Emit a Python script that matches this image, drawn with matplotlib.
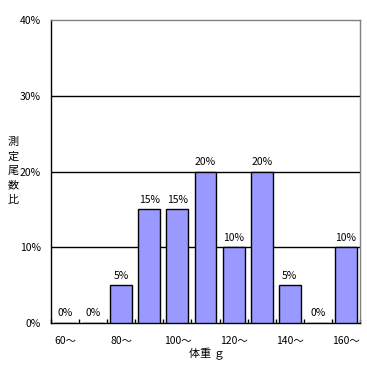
import matplotlib
matplotlib.use("Agg")
import matplotlib.pyplot as plt
import numpy as np

plt.rcParams['font.family'] = ['Noto Sans CJK JP', 'DejaVu Sans']

categories = ["60～", "70～", "80～", "90～", "100～", "110～", "120～", "130～", "140～", "150～", "160～"]
values = [0, 0, 5, 15, 15, 20, 10, 20, 5, 0, 10]
yticks = [0, 10, 20, 30, 40]
ytick_labels = ["0%", "10%", "20%", "30%", "40%"]
xtick_labels = ["60～", "", "80～", "", "100～", "", "120～", "", "140～", "", "160～"]
ylabel = "測定尾数比"
xlabel = "体重 ｇ"

fig = plt.figure(figsize=(3.67, 3.67), dpi=100)
ax = fig.add_axes([51/367, 44/367, 309/367, 303/367])

x = np.arange(len(categories))
ax.bar(x, values, width=0.78, color="#9999FF", edgecolor="black", linewidth=1.0, zorder=3)
for xi, v in zip(x, values):
    ax.text(xi, v + 0.6, f"{v}%", ha="center", va="bottom", fontsize=7.5)

ax.set_xlim(-0.5, len(categories) - 0.5)
ax.set_ylim(0, 40)
for yv in yticks[1:-1]:
    ax.axhline(yv, color="black", linewidth=1.0, zorder=1)

ax.set_yticks(yticks)
ax.set_yticklabels(ytick_labels, fontsize=7.5)
ax.tick_params(axis="y", length=0, pad=7.5)

ax.set_xticks(x)
ax.set_xticklabels(xtick_labels, fontsize=7.5)
ax.tick_params(axis="x", which="major", length=0, pad=9)
ax.set_xticks(np.arange(-0.5, len(categories), 1), minor=True)
ax.tick_params(axis="x", which="minor", direction="in", length=3, width=1, color="black")

ax.spines["left"].set_color("black")
ax.spines["bottom"].set_color("black")
ax.spines["top"].set_color("#808080")
ax.spines["right"].set_color("#808080")
for s in ax.spines.values():
    s.set_linewidth(1.0)

# vertical stacked y label, one character per line
for i, ch in enumerate(ylabel):
    fig.text(13/367, 1 - (142 + 14.5 * i)/367, ch, ha="center", va="center", fontsize=8)
fig.text(207/367, 1 - 354/367, xlabel, ha="center", va="center", fontsize=8)

fig.savefig("out.png", dpi=100)
